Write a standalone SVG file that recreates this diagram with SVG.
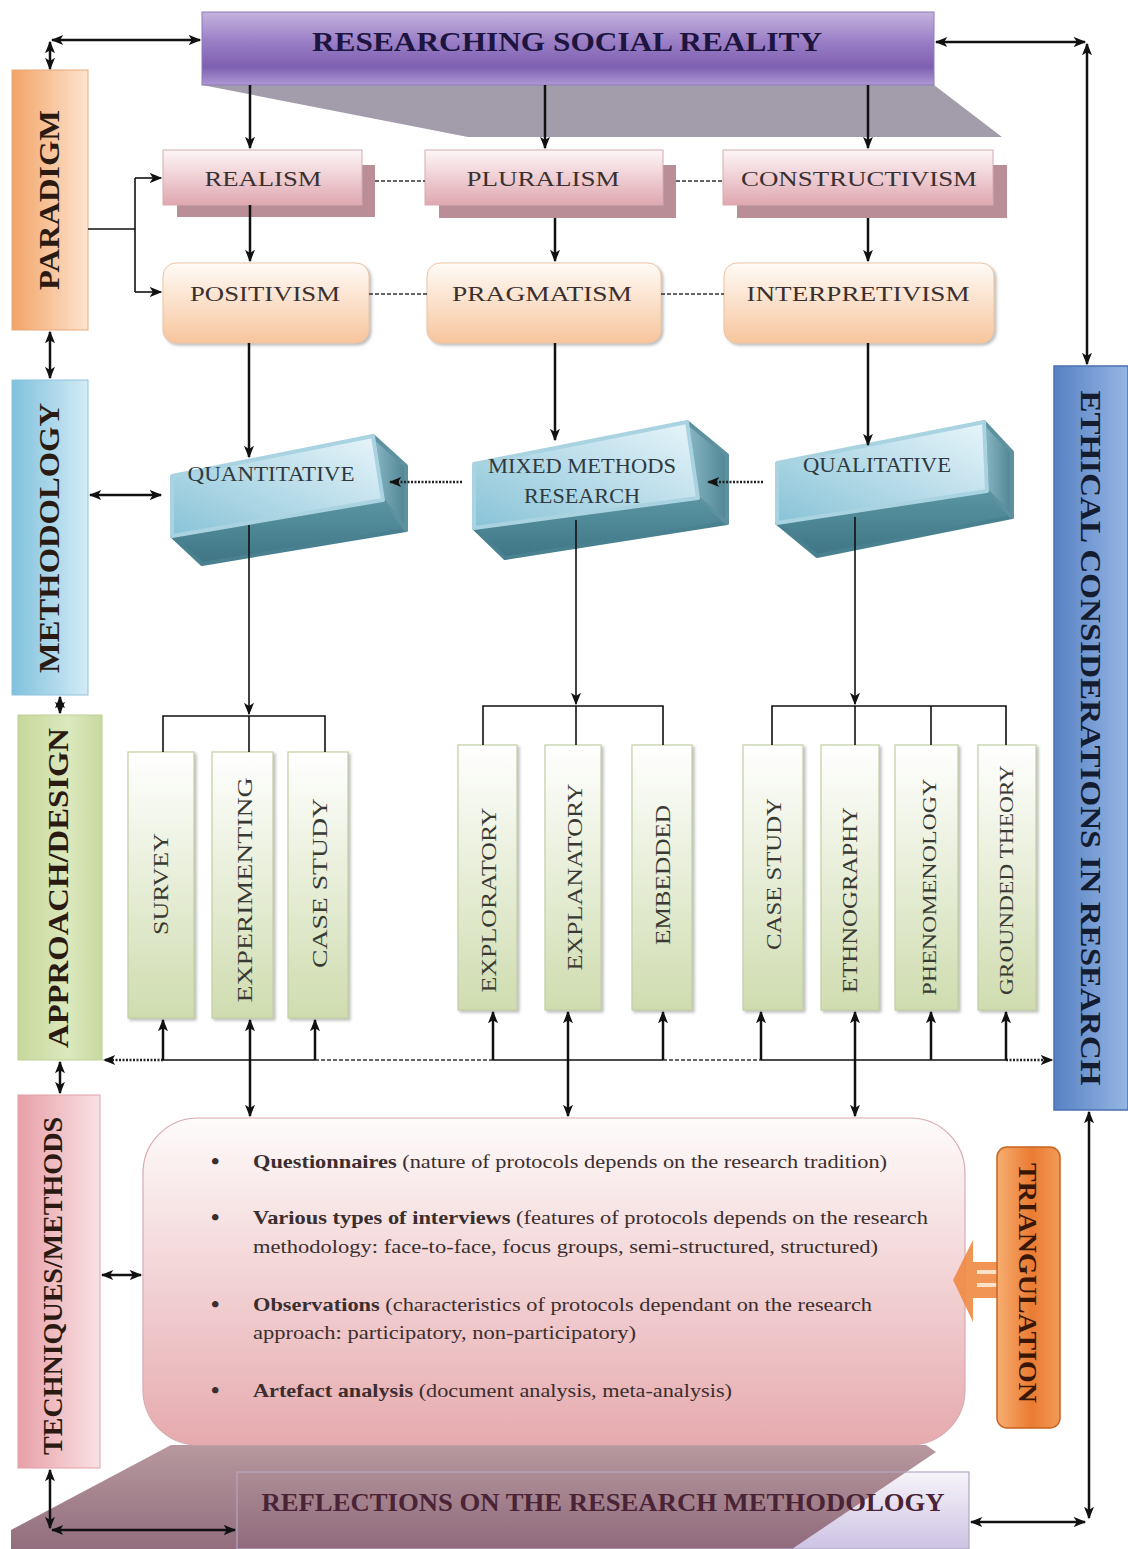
<svg xmlns="http://www.w3.org/2000/svg" width="1128" height="1549" viewBox="0 0 1128 1549">
<style>
.serif{font-family:"Liberation Serif","Times New Roman",serif;}
.side{font-family:"Liberation Serif","Times New Roman",serif;font-weight:bold;fill:#2a1a12;}
.node{font-family:"Liberation Serif","Times New Roman",serif;font-size:22px;fill:#3a3030;}
.dtext{font-family:"Liberation Serif","Times New Roman",serif;font-size:21px;fill:#3a3a34;}
.btext{font-family:"Liberation Serif","Times New Roman",serif;font-size:19px;fill:#3a2e2e;}
.ln{stroke:#111;stroke-width:2.5;fill:none;}
.thin{stroke:#111;stroke-width:1.6;fill:none;}
.dash{stroke:#333;stroke-width:1.6;stroke-dasharray:4 2;fill:none;}
.dot{stroke:#222;stroke-width:2.5;stroke-dasharray:2 1.5;fill:none;}
.dbl{marker-start:url(#ah);marker-end:url(#ah);}
.one{marker-end:url(#ah);}
.dbox{fill:url(#gDesign);stroke:#c2cfa4;stroke-width:1.2;}
</style>
<defs>
<marker id="ah" viewBox="0 0 10 8" refX="9" refY="4" markerWidth="13" markerHeight="10" markerUnits="userSpaceOnUse" orient="auto-start-reverse">
<path d="M0,0 L10,4 L0,8 L2.5,4 z" fill="#111"/>
</marker>
<linearGradient id="gBanner" x1="0" y1="0" x2="0" y2="1">
<stop offset="0" stop-color="#c4b3de"/><stop offset="0.4" stop-color="#9b7fc6"/><stop offset="0.75" stop-color="#7e5fb1"/><stop offset="1" stop-color="#ad98d3"/>
</linearGradient>
<linearGradient id="gPink" x1="0" y1="0" x2="0" y2="1"><stop offset="0" stop-color="#fdf6f7"/><stop offset="1" stop-color="#e0a7b0"/></linearGradient>
<linearGradient id="gPeach" x1="0" y1="0" x2="0" y2="1"><stop offset="0" stop-color="#fffbf7"/><stop offset="1" stop-color="#f7c59c"/></linearGradient>
<linearGradient id="gPara" x1="0" y1="0" x2="1" y2="0"><stop offset="0" stop-color="#f2a467"/><stop offset="1" stop-color="#fde4d0"/></linearGradient>
<linearGradient id="gMeth" x1="0" y1="0" x2="1" y2="0"><stop offset="0" stop-color="#80c1dd"/><stop offset="1" stop-color="#d3ebf5"/></linearGradient>
<linearGradient id="gAppr" x1="0" y1="0" x2="1" y2="0"><stop offset="0" stop-color="#c6d89b"/><stop offset="0.6" stop-color="#dce8bd"/><stop offset="1" stop-color="#c8d9a0"/></linearGradient>
<linearGradient id="gTech" x1="0" y1="0" x2="1" y2="0"><stop offset="0" stop-color="#e7a0a8"/><stop offset="1" stop-color="#f9e2e4"/></linearGradient>
<linearGradient id="gEth" x1="0" y1="0" x2="1" y2="0"><stop offset="0" stop-color="#5781c4"/><stop offset="1" stop-color="#96b6e3"/></linearGradient>
<linearGradient id="gTri" x1="0" y1="0" x2="1" y2="0"><stop offset="0" stop-color="#f7ad70"/><stop offset="0.55" stop-color="#ea7b32"/><stop offset="1" stop-color="#f29a58"/></linearGradient>
<linearGradient id="gFront" x1="0" y1="1" x2="1" y2="0"><stop offset="0" stop-color="#88c3d7"/><stop offset="1" stop-color="#e8f5fa"/></linearGradient>
<linearGradient id="gBottom" x1="0" y1="0" x2="0" y2="1"><stop offset="0" stop-color="#5a95a3"/><stop offset="1" stop-color="#3f7584"/></linearGradient>
<linearGradient id="gRight" x1="0" y1="0" x2="1" y2="0"><stop offset="0" stop-color="#8ab7c4"/><stop offset="1" stop-color="#4f8594"/></linearGradient>
<linearGradient id="gDesign" x1="0" y1="0" x2="0" y2="1"><stop offset="0" stop-color="#ffffff"/><stop offset="1" stop-color="#cfdcaf"/></linearGradient>
<linearGradient id="gTechBox" x1="0" y1="0" x2="0" y2="1"><stop offset="0" stop-color="#fefbfb"/><stop offset="1" stop-color="#e6aaae"/></linearGradient>
<linearGradient id="gMauve" x1="0" y1="0" x2="0" y2="1"><stop offset="0" stop-color="#b39399"/><stop offset="1" stop-color="#8d6677"/></linearGradient>
<linearGradient id="gRefl" x1="0" y1="0" x2="0" y2="1"><stop offset="0" stop-color="#f7f4f9"/><stop offset="1" stop-color="#cdc2e3"/></linearGradient>
<filter id="sh" x="-10%" y="-10%" width="130%" height="130%"><feDropShadow dx="2" dy="2" stdDeviation="1.5" flood-color="#777" flood-opacity="0.5"/></filter>
</defs>

<rect width="1128" height="1549" fill="#ffffff"/>

<!-- decorative shapes -->
<polygon points="202,85 934,85 1002,137 468,137" fill="#a39dab"/>
<rect x="237" y="1472" width="732" height="77" fill="url(#gRefl)"/>
<polygon points="11,1549 11,1530 171,1445 926,1445 936,1452 792,1549" fill="url(#gMauve)" opacity="0.95"/>

<g id="banner">
<rect x="202" y="12" width="732" height="73" fill="url(#gBanner)" stroke="#8f7ab8" stroke-width="1"/>
<text x="567" y="51" text-anchor="middle" class="side" style="font-size:27px;fill:#1d1440" textLength="510" lengthAdjust="spacingAndGlyphs">RESEARCHING SOCIAL REALITY</text>
</g>

<g id="paradigm">
<rect x="12" y="70" width="76" height="260" fill="url(#gPara)" stroke="#e8a878" stroke-width="1"/>
<text transform="translate(49,200) rotate(-90)" text-anchor="middle" dominant-baseline="central" class="side" style="font-size:29px" textLength="180" lengthAdjust="spacingAndGlyphs">PARADIGM</text>
</g>
<g id="methodology">
<rect x="12" y="380" width="76" height="315" fill="url(#gMeth)" stroke="#8cc4dc" stroke-width="1"/>
<text transform="translate(49,538) rotate(-90)" text-anchor="middle" dominant-baseline="central" class="side" style="font-size:29px" textLength="270" lengthAdjust="spacingAndGlyphs">METHODOLOGY</text>
</g>
<g id="approach">
<rect x="18" y="715" width="84" height="345" fill="url(#gAppr)" stroke="#c0d098" stroke-width="1"/>
<text transform="translate(58,888) rotate(-90)" text-anchor="middle" dominant-baseline="central" class="side" style="font-size:29px" textLength="320" lengthAdjust="spacingAndGlyphs">APPROACH/DESIGN</text>
</g>
<g id="techniques">
<rect x="18" y="1095" width="82" height="373" fill="url(#gTech)" stroke="#e0a0a8" stroke-width="1"/>
<text transform="translate(53,1286) rotate(-90)" text-anchor="middle" dominant-baseline="central" class="side" style="font-size:27px" textLength="338" lengthAdjust="spacingAndGlyphs">TECHNIQUES/METHODS</text>
</g>
<g id="ethical">
<rect x="1054" y="366" width="74" height="744" fill="url(#gEth)" stroke="#4a72b0" stroke-width="1.5"/>
<text transform="translate(1091,738) rotate(90)" text-anchor="middle" dominant-baseline="central" class="side" style="font-size:30px;fill:#141c30" textLength="695" lengthAdjust="spacingAndGlyphs">ETHICAL CONSIDERATIONS IN RESEARCH</text>
</g>

<!-- paradigm row -->
<g id="realism">
<rect x="177" y="165" width="198" height="52" fill="#b98e96"/>
<rect x="163" y="150" width="199" height="55" fill="url(#gPink)" stroke="#d4aab2" stroke-width="1"/>
<text x="263" y="186" text-anchor="middle" class="node" textLength="117" lengthAdjust="spacingAndGlyphs">REALISM</text>
</g>
<g id="pluralism">
<rect x="439" y="165" width="237" height="53" fill="#b98e96"/>
<rect x="425" y="150" width="238" height="55" fill="url(#gPink)" stroke="#d4aab2" stroke-width="1"/>
<text x="543" y="186" text-anchor="middle" class="node" textLength="153" lengthAdjust="spacingAndGlyphs">PLURALISM</text>
</g>
<g id="constructivism">
<rect x="737" y="165" width="270" height="53" fill="#b98e96"/>
<rect x="723" y="150" width="270" height="55" fill="url(#gPink)" stroke="#d4aab2" stroke-width="1"/>
<text x="859" y="186" text-anchor="middle" class="node" textLength="236" lengthAdjust="spacingAndGlyphs">CONSTRUCTIVISM</text>
</g>
<g id="positivism">
<rect x="163" y="263" width="206" height="80" rx="13" fill="url(#gPeach)" stroke="#ecc4a4" stroke-width="1" filter="url(#sh)"/>
<text x="265" y="301" text-anchor="middle" class="node" textLength="150" lengthAdjust="spacingAndGlyphs">POSITIVISM</text>
</g>
<g id="pragmatism">
<rect x="427" y="263" width="234" height="80" rx="13" fill="url(#gPeach)" stroke="#ecc4a4" stroke-width="1" filter="url(#sh)"/>
<text x="542" y="301" text-anchor="middle" class="node" textLength="180" lengthAdjust="spacingAndGlyphs">PRAGMATISM</text>
</g>
<g id="interpretivism">
<rect x="724" y="263" width="270" height="80" rx="13" fill="url(#gPeach)" stroke="#ecc4a4" stroke-width="1" filter="url(#sh)"/>
<text x="858" y="301" text-anchor="middle" class="node" textLength="223" lengthAdjust="spacingAndGlyphs">INTERPRETIVISM</text>
</g>

<!-- 3D methodology boxes -->
<g id="quantitative" stroke-linejoin="round">
<polygon points="172,536 383,500 406,530 202,564" fill="url(#gBottom)" stroke="#4a8190" stroke-width="4"/>
<polygon points="373,436 406,466 406,530 383,500" fill="url(#gRight)" stroke="#5d919f" stroke-width="4"/>
<polygon points="172,476 373,436 383,500 172,536" fill="url(#gFront)" stroke="#a9d3e1" stroke-width="4"/>
<text x="271" y="481" text-anchor="middle" class="serif" style="font-size:21px;fill:#2e3a40" textLength="167" lengthAdjust="spacingAndGlyphs">QUANTITATIVE</text>
</g>
<g id="mixed" stroke-linejoin="round">
<polygon points="474,528 698,498 727,523 505,558" fill="url(#gBottom)" stroke="#4a8190" stroke-width="4"/>
<polygon points="687,422 727,455 727,523 698,498" fill="url(#gRight)" stroke="#5d919f" stroke-width="4"/>
<polygon points="474,464 687,422 698,498 474,528" fill="url(#gFront)" stroke="#a9d3e1" stroke-width="4"/>
<text x="582" y="473" text-anchor="middle" class="serif" style="font-size:21px;fill:#2e3a40" textLength="188" lengthAdjust="spacingAndGlyphs">MIXED METHODS</text>
<text x="582" y="503" text-anchor="middle" class="serif" style="font-size:21px;fill:#2e3a40" textLength="116" lengthAdjust="spacingAndGlyphs">RESEARCH</text>
</g>
<g id="qualitative" stroke-linejoin="round">
<polygon points="777,523 987,491 1012,517 817,556" fill="url(#gBottom)" stroke="#4a8190" stroke-width="4"/>
<polygon points="984,422 1012,452 1012,517 987,491" fill="url(#gRight)" stroke="#5d919f" stroke-width="4"/>
<polygon points="777,463 984,422 987,491 777,523" fill="url(#gFront)" stroke="#a9d3e1" stroke-width="4"/>
<text x="877" y="472" text-anchor="middle" class="serif" style="font-size:21px;fill:#2e3a40" textLength="148" lengthAdjust="spacingAndGlyphs">QUALITATIVE</text>
</g>

<!-- design boxes -->
<g id="survey"><rect x="128" y="752" width="66" height="266" class="dbox" filter="url(#sh)"/>
<text transform="translate(161,884) rotate(-90)" text-anchor="middle" dominant-baseline="central" class="dtext" textLength="102" lengthAdjust="spacingAndGlyphs">SURVEY</text></g>
<g id="experimenting"><rect x="212" y="752" width="61" height="266" class="dbox" filter="url(#sh)"/>
<text transform="translate(245,890) rotate(-90)" text-anchor="middle" dominant-baseline="central" class="dtext" textLength="225" lengthAdjust="spacingAndGlyphs">EXPERIMENTING</text></g>
<g id="casestudy1"><rect x="288" y="752" width="60" height="266" class="dbox" filter="url(#sh)"/>
<text transform="translate(320,883) rotate(-90)" text-anchor="middle" dominant-baseline="central" class="dtext" textLength="170" lengthAdjust="spacingAndGlyphs">CASE STUDY</text></g>
<g id="exploratory"><rect x="458" y="745" width="59" height="265" class="dbox" filter="url(#sh)"/>
<text transform="translate(489,900) rotate(-90)" text-anchor="middle" dominant-baseline="central" class="dtext" textLength="185" lengthAdjust="spacingAndGlyphs">EXPLORATORY</text></g>
<g id="explanatory"><rect x="545" y="745" width="56" height="265" class="dbox" filter="url(#sh)"/>
<text transform="translate(575,877) rotate(-90)" text-anchor="middle" dominant-baseline="central" class="dtext" textLength="187" lengthAdjust="spacingAndGlyphs">EXPLANATORY</text></g>
<g id="embedded"><rect x="632" y="745" width="60" height="265" class="dbox" filter="url(#sh)"/>
<text transform="translate(663,875) rotate(-90)" text-anchor="middle" dominant-baseline="central" class="dtext" textLength="140" lengthAdjust="spacingAndGlyphs">EMBEDDED</text></g>
<g id="casestudy2"><rect x="743" y="745" width="60" height="265" class="dbox" filter="url(#sh)"/>
<text transform="translate(774,874) rotate(-90)" text-anchor="middle" dominant-baseline="central" class="dtext" textLength="152" lengthAdjust="spacingAndGlyphs">CASE STUDY</text></g>
<g id="ethnography"><rect x="821" y="745" width="58" height="265" class="dbox" filter="url(#sh)"/>
<text transform="translate(850,900) rotate(-90)" text-anchor="middle" dominant-baseline="central" class="dtext" textLength="186" lengthAdjust="spacingAndGlyphs">ETHNOGRAPHY</text></g>
<g id="phenomenology"><rect x="895" y="745" width="63" height="265" class="dbox" filter="url(#sh)"/>
<text transform="translate(929,887) rotate(-90)" text-anchor="middle" dominant-baseline="central" class="dtext" style="font-size:19px" textLength="217" lengthAdjust="spacingAndGlyphs">PHENOMENOLOGY</text></g>
<g id="grounded"><rect x="978" y="745" width="58" height="265" class="dbox" filter="url(#sh)"/>
<text transform="translate(1006,880) rotate(-90)" text-anchor="middle" dominant-baseline="central" class="dtext" style="font-size:19px" textLength="230" lengthAdjust="spacingAndGlyphs">GROUNDED THEORY</text></g>

<!-- techniques box -->
<g id="techbox">
<rect x="143" y="1118" width="822" height="327" rx="55" fill="url(#gTechBox)" stroke="#d9aab0" stroke-width="1.2"/>
<g class="btext">
<text x="211" y="1169" style="font-size:24px;font-weight:bold">•</text>
<text x="253" y="1168" textLength="634" lengthAdjust="spacingAndGlyphs"><tspan font-weight="bold">Questionnaires</tspan> (nature of protocols depends on the research tradition)</text>
<text x="211" y="1225" style="font-size:24px;font-weight:bold">•</text>
<text x="253" y="1224" textLength="675" lengthAdjust="spacingAndGlyphs"><tspan font-weight="bold">Various types of interviews</tspan> (features of protocols depends on the research</text>
<text x="253" y="1253" textLength="625" lengthAdjust="spacingAndGlyphs">methodology: face-to-face, focus groups, semi-structured, structured)</text>
<text x="211" y="1312" style="font-size:24px;font-weight:bold">•</text>
<text x="253" y="1311" textLength="619" lengthAdjust="spacingAndGlyphs"><tspan font-weight="bold">Observations</tspan> (characteristics of protocols dependant on the research</text>
<text x="253" y="1339" textLength="383" lengthAdjust="spacingAndGlyphs">approach: participatory, non-participatory)</text>
<text x="211" y="1398" style="font-size:24px;font-weight:bold">•</text>
<text x="253" y="1397" textLength="479" lengthAdjust="spacingAndGlyphs"><tspan font-weight="bold">Artefact analysis</tspan> (document analysis, meta-analysis)</text>
</g>
</g>

<g id="triangulation">
<polygon points="953,1280 973,1240 973,1262 998,1262 998,1298 973,1298 973,1322" fill="#f08a42" opacity="0.9"/>
<rect x="977" y="1270" width="20" height="4" fill="#ffe2c8"/>
<rect x="977" y="1283" width="20" height="4" fill="#ffe2c8"/>
<rect x="997" y="1147" width="63" height="281" rx="10" fill="url(#gTri)" stroke="#c8641e" stroke-width="1.5"/>
<text transform="translate(1027,1283) rotate(90)" text-anchor="middle" dominant-baseline="central" class="side" style="font-size:25px;fill:#3a1606" textLength="240" lengthAdjust="spacingAndGlyphs">TRIANGULATION</text>
</g>

<g id="reflections">
<rect x="237" y="1472" width="732" height="77" fill="none" stroke="#b3a6c2" stroke-width="1.2"/>
<text x="603" y="1502" text-anchor="middle" dominant-baseline="central" class="side" style="font-size:25px;fill:#4a2436" textLength="683" lengthAdjust="spacingAndGlyphs">REFLECTIONS ON THE RESEARCH METHODOLOGY</text>
</g>

<!-- connectors -->
<g id="connectors">
<line x1="52" y1="40" x2="200" y2="40" class="ln dbl"/>
<line x1="50" y1="42" x2="50" y2="69" class="ln dbl"/>
<line x1="936" y1="42" x2="1085" y2="42" class="ln dbl"/>
<line x1="1087" y1="44" x2="1087" y2="364" class="ln dbl"/>
<line x1="50" y1="332" x2="50" y2="378" class="ln dbl"/>
<line x1="60" y1="697" x2="60" y2="713" class="ln dbl"/>
<line x1="60" y1="1062" x2="60" y2="1093" class="ln dbl"/>
<line x1="50" y1="1470" x2="50" y2="1528" class="ln dbl"/>
<line x1="52" y1="1530" x2="235" y2="1530" class="ln dbl"/>
<line x1="1089" y1="1112" x2="1089" y2="1518" class="ln dbl"/>
<line x1="971" y1="1522" x2="1085" y2="1522" class="ln dbl"/>
<line x1="90" y1="495" x2="161" y2="495" class="ln dbl"/>
<line x1="102" y1="1275" x2="141" y2="1275" class="ln dbl"/>
<line x1="250" y1="85" x2="250" y2="148" class="ln one"/>
<line x1="545" y1="85" x2="545" y2="148" class="ln one"/>
<line x1="868" y1="85" x2="868" y2="148" class="ln one"/>
<polyline points="88,229 135,229" class="thin"/>
<polyline points="135,178 135,292" class="thin"/>
<line x1="135" y1="178" x2="161" y2="178" class="thin one"/>
<line x1="135" y1="292" x2="161" y2="292" class="thin one"/>
<line x1="375" y1="181" x2="425" y2="181" class="dash"/>
<line x1="676" y1="181" x2="723" y2="181" class="dash"/>
<line x1="369" y1="294" x2="427" y2="294" class="dash"/>
<line x1="661" y1="294" x2="724" y2="294" class="dash"/>
<line x1="250" y1="205" x2="250" y2="261" class="ln one"/>
<line x1="555" y1="218" x2="555" y2="261" class="ln one"/>
<line x1="868" y1="218" x2="868" y2="261" class="ln one"/>
<line x1="249" y1="343" x2="249" y2="457" class="ln one"/>
<line x1="555" y1="343" x2="555" y2="440" class="ln one"/>
<line x1="868" y1="343" x2="868" y2="445" class="ln one"/>
<line x1="462" y1="482" x2="390" y2="482" class="dot one"/>
<line x1="763" y1="482" x2="708" y2="482" class="dot one"/>
<line x1="249" y1="525" x2="249" y2="714" class="thin one"/>
<line x1="576" y1="520" x2="576" y2="704" class="thin one"/>
<line x1="855" y1="517" x2="855" y2="704" class="thin one"/>
<polyline points="163,752 163,716 325,716 325,752" class="thin"/>
<line x1="249" y1="716" x2="249" y2="752" class="thin"/>
<polyline points="483,745 483,706 663,706 663,745" class="thin"/>
<line x1="576" y1="706" x2="576" y2="745" class="thin"/>
<polyline points="772,745 772,706 1006,706 1006,745" class="thin"/>
<line x1="855" y1="706" x2="855" y2="745" class="thin"/>
<line x1="931" y1="706" x2="931" y2="745" class="thin"/>
<line x1="163" y1="1060" x2="104" y2="1060" class="dot one"/>
<line x1="163" y1="1060" x2="315" y2="1060" class="thin"/>
<line x1="315" y1="1060" x2="493" y2="1060" class="dash"/>
<line x1="493" y1="1060" x2="663" y2="1060" class="thin"/>
<line x1="663" y1="1060" x2="761" y2="1060" class="dash"/>
<line x1="761" y1="1060" x2="1006" y2="1060" class="thin"/>
<line x1="1006" y1="1060" x2="1052" y2="1060" class="dot one"/>
<line x1="163" y1="1060" x2="163" y2="1020" class="ln one"/>
<line x1="315" y1="1060" x2="315" y2="1020" class="ln one"/>
<line x1="493" y1="1060" x2="493" y2="1012" class="ln one"/>
<line x1="663" y1="1060" x2="663" y2="1012" class="ln one"/>
<line x1="761" y1="1060" x2="761" y2="1012" class="ln one"/>
<line x1="931" y1="1060" x2="931" y2="1012" class="ln one"/>
<line x1="1006" y1="1060" x2="1006" y2="1012" class="ln one"/>
<line x1="250" y1="1020" x2="250" y2="1116" class="ln dbl"/>
<line x1="568" y1="1012" x2="568" y2="1116" class="ln dbl"/>
<line x1="855" y1="1012" x2="855" y2="1116" class="ln dbl"/>
</g>
</svg>
